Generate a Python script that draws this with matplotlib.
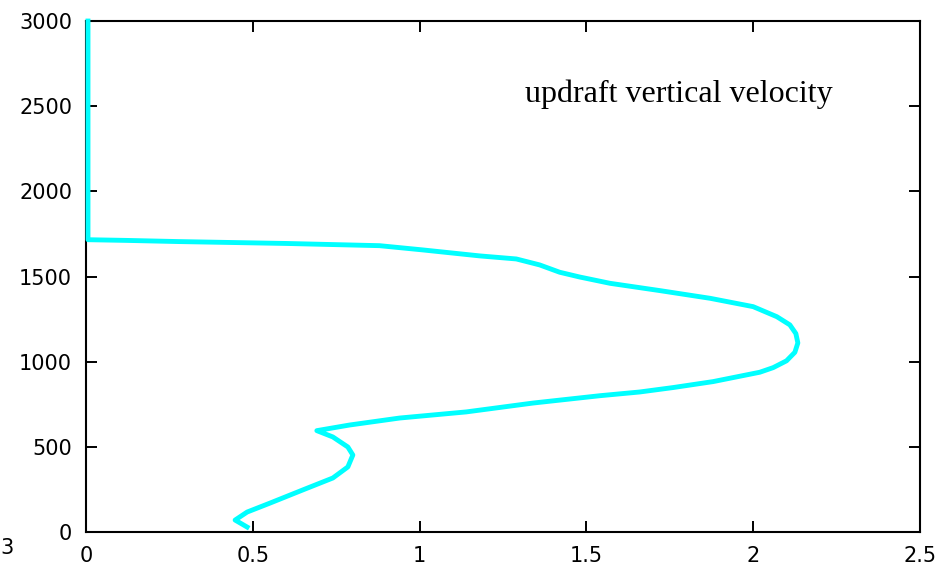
import matplotlib.pyplot as plt

# updraft vertical velocity profile (m/s) against height (m)
velocity = [0.006, 0.006, 0.12, 0.28, 0.60, 0.88, 1.01, 1.18, 1.29, 1.36,
            1.42, 1.48, 1.571, 1.721, 1.871, 2.00, 2.071, 2.11, 2.128,
            2.134, 2.125, 2.10, 2.06, 2.02, 1.88, 1.76, 1.66, 1.54,
            1.34, 1.14, 0.94, 0.79,
            0.692, 0.74, 0.785, 0.80, 0.785, 0.74, 0.65, 0.552, 0.483,
            0.447, 0.483]
height = [3000, 1716, 1712, 1705, 1694, 1681, 1656, 1621, 1603, 1568,
          1525, 1497, 1460, 1417, 1372, 1323, 1264, 1216, 1165,
          1110, 1055, 1005, 965, 938, 883, 848, 822, 800,
          757, 705, 669, 628,
          595, 558, 499, 452, 382, 317, 247, 170, 117,
          70, 29]

x_ticks = [0, 0.5, 1, 1.5, 2, 2.5]
x_labels = ["0", "0.5", "1", "1.5", "2", "2.5"]
y_ticks = [0, 500, 1000, 1500, 2000, 2500, 3000]

fig = plt.figure(figsize=(9.45, 5.68), dpi=100)
ax = fig.add_axes([0.091, 0.0634, 0.8825, 0.8996])

ax.plot(velocity, height, color="#00ffff", linewidth=3.5,
        solid_joinstyle="round", clip_on=False, zorder=3)

ax.set_xlim(0, 2.5)
ax.set_ylim(0, 3000)
ax.set_xticks(x_ticks)
ax.set_xticklabels(x_labels)
ax.set_yticks(y_ticks)
ax.tick_params(direction="in", length=8, width=1.4, top=True, right=True,
               labelsize=15, pad=10)
for side in ax.spines.values():
    side.set_linewidth(1.5)

ax.text(1.316, 2525, "updraft vertical velocity", fontsize=23,
        family="Liberation Serif", va="baseline", ha="left")

# leftover label fragment at the lower left edge
fig.text(0.0, 0.035, "3", fontsize=15, ha="left", va="center")

fig.savefig("out.png", dpi=100)
